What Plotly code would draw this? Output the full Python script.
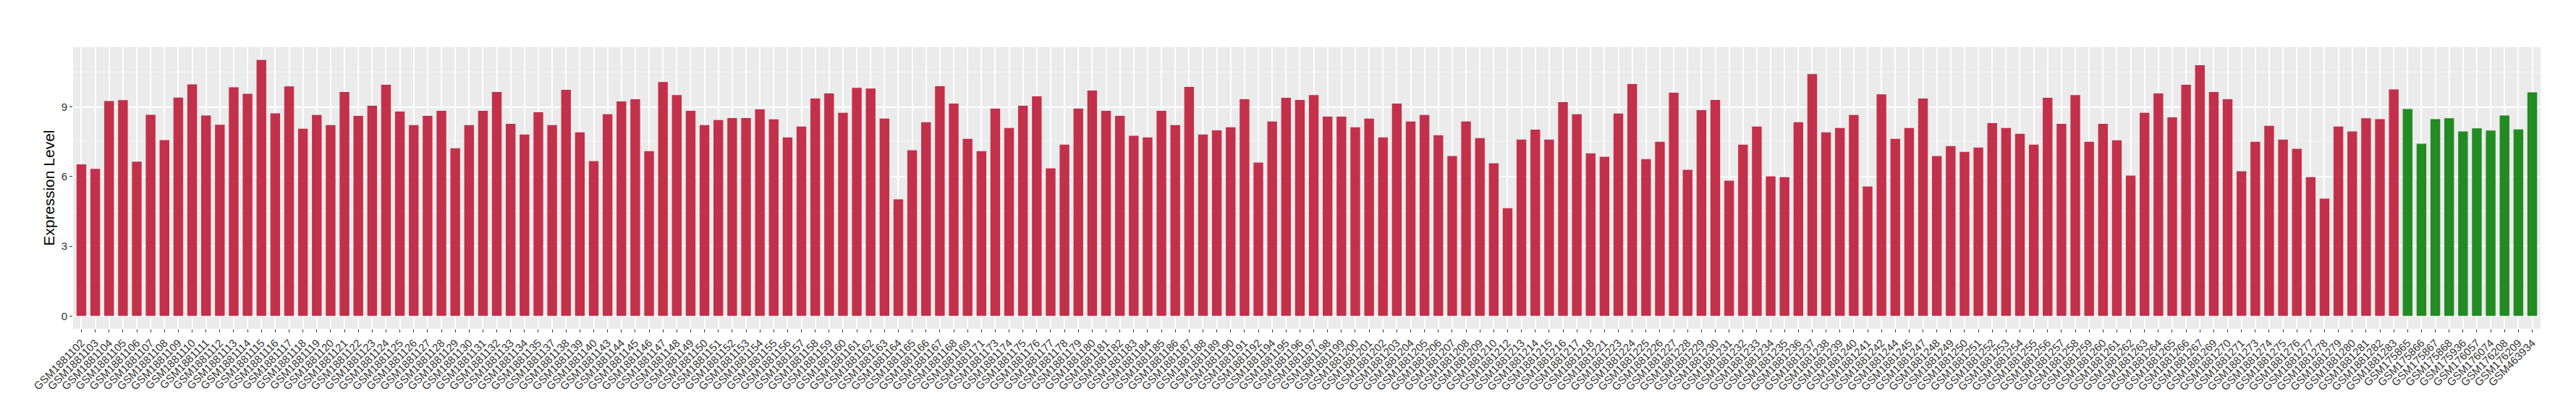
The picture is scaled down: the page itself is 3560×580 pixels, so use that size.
import plotly.graph_objects as go

tumor_ids = [102,103,104,105,106,107,108,109,110,111,112,113,114,115,116,117,
             118,119,120,121,122,123,124,125,126,127,128,129,130,131,132,133,134,135,
             137,138,139,140,143,144,145,146,147,148,149,150,151,152,153,154,155,156,
             157,158,159,160,161,162,163,164,165,166,167,168,169,171,173,174,175,176,177,
             178,179,180,181,182,183,184,185,186,187,188,189,190,191,192,194,195,196,197,
             198,199,200,201,202,203,204,205,206,207,208,209,210,212,213,214,215,216,
             217,218,221,223,224,225,226,227,228,229,230,231,232,233,234,235,236,237,238,
             239,240,241,242,244,245,247,248,249,250,251,252,253,254,255,256,257,258,
             259,260,261,262,263,264,265,266,267,269,270,271,273,274,275,276,277,278,279,
             280,281,282,283]
tumor_labels = ["GSM1881" + str(i) for i in tumor_ids]
tumor_values = [6.52,6.33,9.25,9.29,6.64,8.66,7.57,9.40,9.97,8.63,8.23,9.84,9.56,11.02,8.72,9.88,
                8.06,8.65,8.21,9.64,8.61,9.05,9.95,8.80,8.21,8.61,8.83,7.22,8.21,8.83,9.64,8.27,7.81,8.77,
                8.21,9.73,7.90,6.66,8.68,9.23,9.33,7.09,10.07,9.51,8.83,8.21,8.43,8.52,8.52,8.89,8.46,7.68,
                8.15,9.36,9.58,8.74,9.82,9.79,8.49,5.02,7.13,8.34,9.89,9.14,7.62,7.09,8.92,8.09,9.05,9.45,6.35,
                7.37,8.92,9.70,8.83,8.61,7.75,7.68,8.83,8.21,9.86,7.81,7.99,8.12,9.33,6.60,8.37,9.39,9.30,9.51,
                8.58,8.58,8.12,8.49,7.68,9.14,8.37,8.65,7.78,6.88,8.37,7.65,6.57,4.64,7.59,8.02,7.59,9.20,
                8.68,7.00,6.85,8.71,9.98,6.75,7.50,9.61,6.29,8.86,9.30,5.82,7.37,8.15,6.01,5.98,8.34,10.41,7.90,
                8.09,8.65,5.57,9.54,7.62,8.09,9.36,6.88,7.31,7.06,7.25,8.30,8.09,7.84,7.37,9.39,8.27,9.51,
                7.50,8.27,7.56,6.04,8.74,9.58,8.55,9.95,10.79,9.64,9.33,6.23,7.50,8.18,7.59,7.19,5.98,5.05,8.15,
                7.94,8.51,8.47,9.75]

normal_labels = ["GSM175865","GSM175866","GSM175867","GSM175868","GSM175936",
                 "GSM176057","GSM176074","GSM176208","GSM176209","GSM463934"]
normal_values = [8.91,7.41,8.47,8.51,7.94,8.07,7.98,8.63,8.03,9.62]

y_ticks = [0, 3, 6, 9]

RED = "#C3304A"
GREEN = "#228B22"

categories = tumor_labels + normal_labels
ymax = max(tumor_values + normal_values)

fig = go.Figure()
fig.add_trace(go.Bar(x=tumor_labels, y=tumor_values, marker_color=RED,
                     marker_line_width=0, width=0.7, showlegend=False))
fig.add_trace(go.Bar(x=normal_labels, y=normal_values, marker_color=GREEN,
                     marker_line_width=0, width=0.7, showlegend=False))

fig.update_layout(
    width=3560, height=580,
    margin=dict(l=93, r=57, t=57, b=134, autoexpand=False),
    paper_bgcolor="white",
    plot_bgcolor="#EBEBEB",
    font=dict(family="Liberation Sans, Arial, sans-serif", color="#333333"),
    bargap=0.3,
)
fig.update_xaxes(
    type="category",
    categoryorder="array", categoryarray=categories,
    range=[-0.6, len(categories) - 0.4],
    showgrid=True, gridcolor="white", gridwidth=1.6,
    tickangle=-45, tickfont=dict(size=15, color="#333333"),
    ticks="outside", ticklen=4, tickcolor="#333333", tickwidth=1,
    showline=False, zeroline=False, automargin=False,
)
fig.update_yaxes(
    range=[-0.05 * ymax, ymax * 1.05],
    tickvals=y_ticks, ticktext=[str(v) for v in y_ticks],
    showgrid=True, gridcolor="white", gridwidth=1.6,
    minor=dict(tickvals=[1.5, 4.5, 7.5, 10.5], showgrid=True,
               gridcolor="#F5F5F5", gridwidth=0.8, ticks=""),
    tickfont=dict(size=15, color="#333333"),
    ticks="outside", ticklen=4, tickcolor="#333333", tickwidth=1,
    zeroline=False, showline=False, automargin=False,
    title=dict(text="Expression Level", font=dict(size=21, color="black"), standoff=3),
)

fig.write_html("out.html")
